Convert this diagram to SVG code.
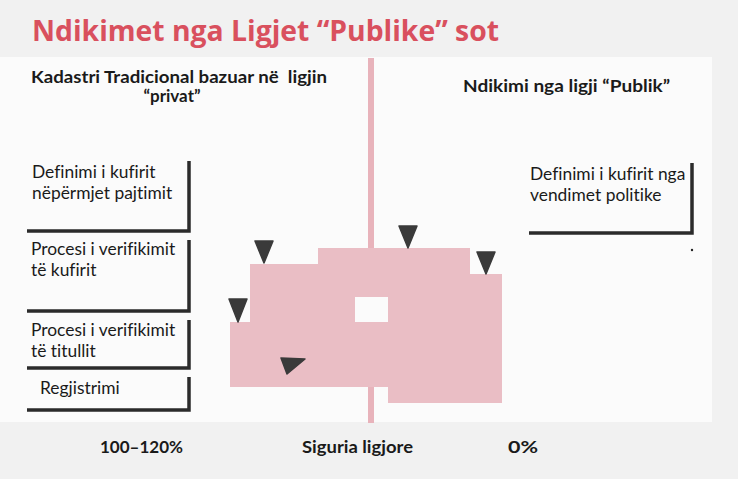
<svg xmlns="http://www.w3.org/2000/svg" width="738" height="479" viewBox="0 0 738 479">
<style>
text{font-family:"Open Sans","Liberation Sans",sans-serif;fill:#1a1a1a;font-variant-ligatures:none}
.title{font-size:29px;font-weight:700;fill:#d9505e}
.hdr{font-family:Lato,"Liberation Sans",sans-serif;font-size:17px;font-weight:700}
.box{font-family:Lato,"Liberation Sans",sans-serif;font-size:17.4px}
.lbl{font-family:Lato,"Liberation Sans",sans-serif;font-size:17px;font-weight:700}
.frame{fill:none;stroke:#2b2b2b;stroke-width:3.5;stroke-linejoin:miter}
.tri{fill:#3a3a3a;stroke:#3a3a3a;stroke-width:1.5;stroke-linejoin:round}
</style>
<rect width="738" height="479" fill="#f1f1f1"/>
<rect x="0" y="57" width="712" height="365" fill="#fbfbfb"/>
<text class="title" x="32" y="41" textLength="467" lengthAdjust="spacingAndGlyphs">Ndikimet nga Ligjet “Publike” sot</text>

<g id="axis">
<rect x="368" y="58" width="6" height="365" fill="#e8b3bb"/>
</g>

<g id="chart">
<path d="M318,248 H470 V274 H502 V403 H388 V387 H230 V322 H250 V264 H318 Z" fill="#eabec5"/>
<rect x="355" y="297" width="33" height="25" fill="#fbfbfb"/>
</g>

<g id="markers">
<polygon class="tri" points="255,241 273,241 264,263"/>
<polygon class="tri" points="399,226 417,226 408,248"/>
<polygon class="tri" points="477,252 495,252 486,274"/>
<polygon class="tri" points="229,299 247,299 238,322"/>
<polygon class="tri" points="281,358 305,359 287,374"/>
</g>

<g id="headers">
<text class="hdr" x="31" y="83" textLength="296" lengthAdjust="spacingAndGlyphs" xml:space="preserve">Kadastri Tradicional bazuar në  ligjin</text>
<text class="hdr" x="172" y="102" text-anchor="middle">“privat”</text>
<text class="hdr" x="463" y="92" textLength="207" lengthAdjust="spacingAndGlyphs">Ndikimi nga ligji “Publik”</text>
</g>

<g id="box-definimi">
<polyline class="frame" points="189,161 189,231 27,231"/>
<text class="box" x="32" y="178">Definimi i kufirit</text>
<text class="box" x="32" y="199">nëpërmjet pajtimit</text>
</g>
<g id="box-verifikimi-kufirit">
<polyline class="frame" points="189,240 189,311 27,311"/>
<text class="box" x="31" y="255">Procesi i verifikimit</text>
<text class="box" x="31" y="276">të kufirit</text>
</g>
<g id="box-verifikimi-titullit">
<polyline class="frame" points="189,320 189,368 27,368"/>
<text class="box" x="31" y="336">Procesi i verifikimit</text>
<text class="box" x="31" y="357">të titullit</text>
</g>
<g id="box-regjistrimi">
<polyline class="frame" points="189,377 189,410 27,410"/>
<text class="box" x="40" y="394">Regjistrimi</text>
</g>
<g id="box-politike">
<polyline class="frame" points="692,163 692,233 529,233"/>
<text class="box" x="530" y="180">Definimi i kufirit nga</text>
<text class="box" x="530" y="201">vendimet politike</text>
<circle cx="692" cy="250" r="1.2" fill="#222"/>
</g>

<g id="scale">
<text class="lbl" x="100" y="453" textLength="83" lengthAdjust="spacingAndGlyphs">100–120%</text>
<text class="lbl" x="302" y="453" textLength="111" lengthAdjust="spacingAndGlyphs">Siguria ligjore</text>
<text class="lbl" x="508" y="453" textLength="30" lengthAdjust="spacingAndGlyphs">0%</text>
</g>
</svg>
